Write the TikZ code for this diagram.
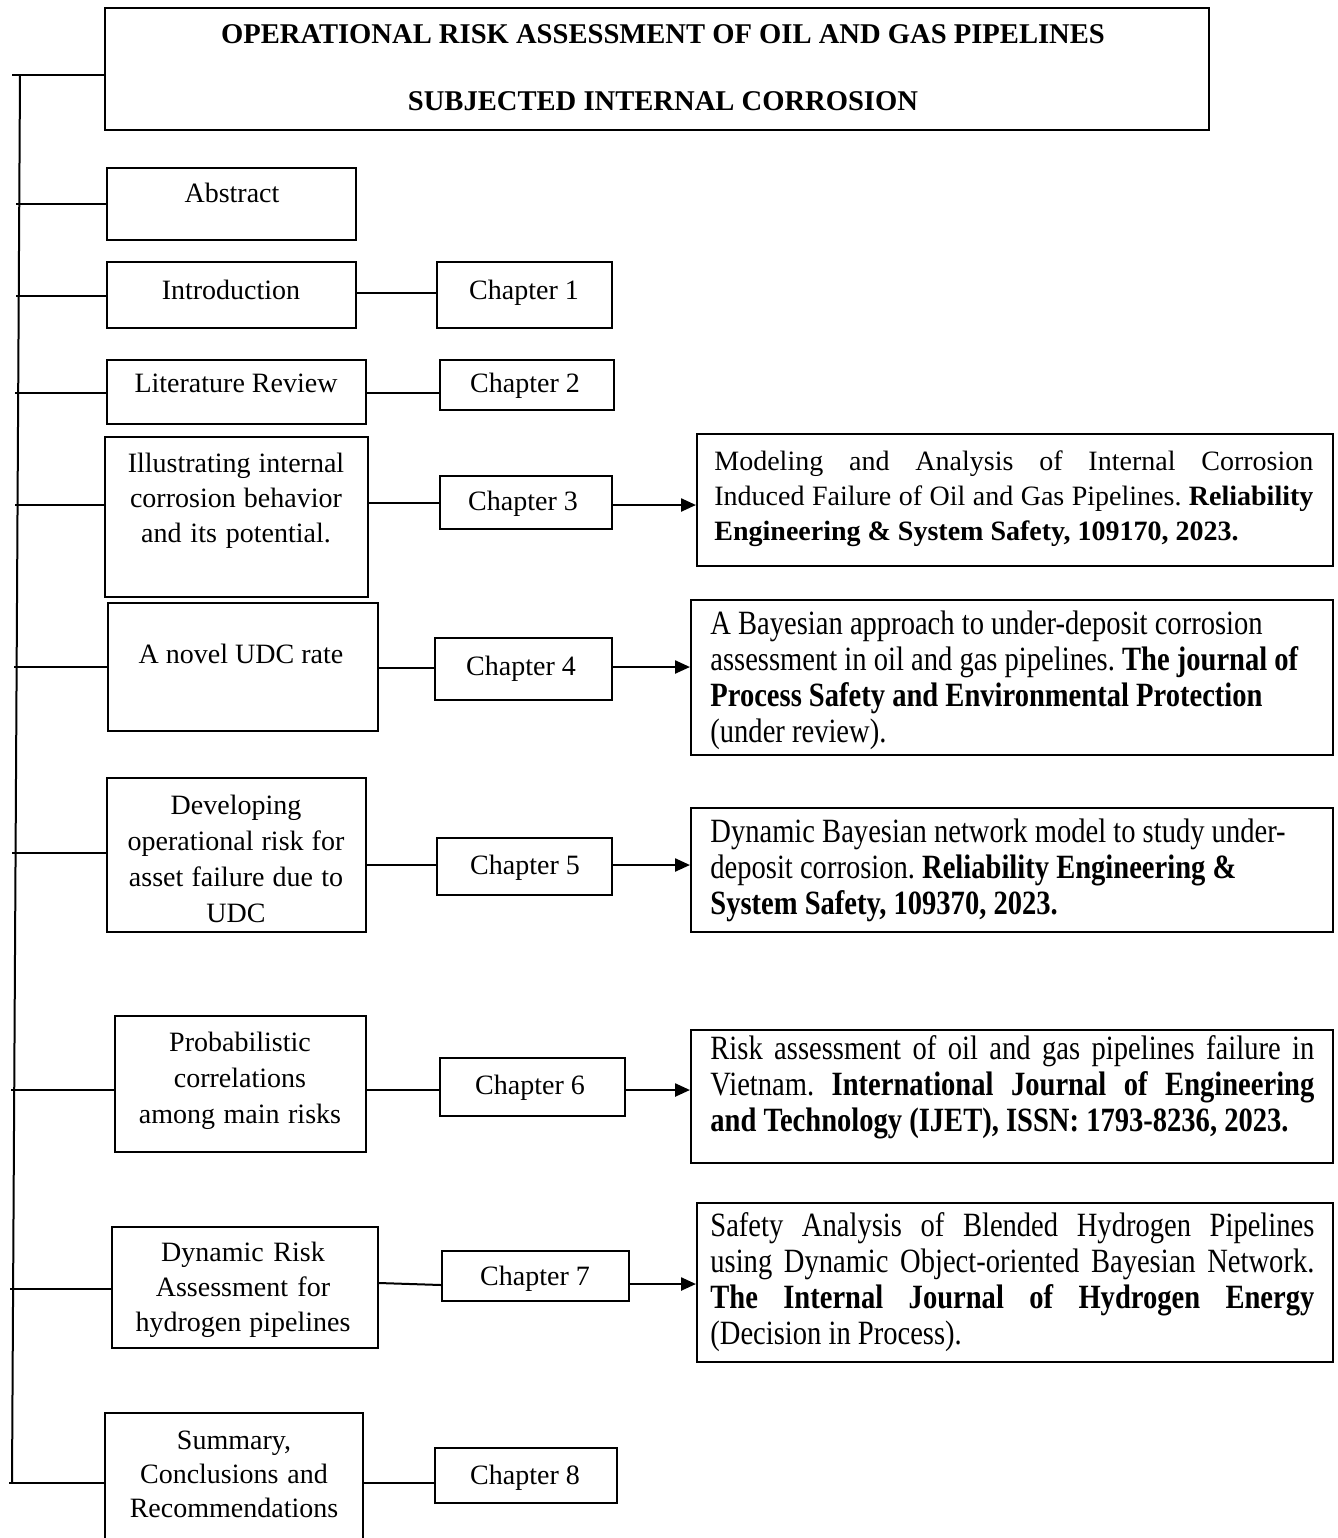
\documentclass[tikz,border=0pt]{standalone}
\usepackage{fontspec}
\setmainfont{Liberation Serif}
\newfontfamily\narrowserif[FakeStretch=0.84]{Liberation Serif}
\usetikzlibrary{arrows.meta,fit}
\frenchspacing
% framed box from two corners: name, x1, y1, x2, y2
\newcommand\boxat[5]{%
  \path (#2,#3) coordinate (#1-a) (#4,#5) coordinate (#1-b);
  \node[box, fit=(#1-a)(#1-b)] (#1) {};}
% plain interword spacing inside aligned nodes
\newcommand\plainsp{\spaceskip=0pt\xspaceskip=0pt\relax}
\begin{document}
\begin{tikzpicture}[x=0.5pt,y=-0.5pt,
  box/.style={draw, line width=1pt, inner sep=0pt},
  wire/.style={line width=1pt},
  arr/.style={line width=1.2pt, -{Triangle[length=7.5pt,width=6.5pt]}},
  lbl/.style={anchor=base, inner sep=0pt, font=\fontsize{14}{17.5}\selectfont},
  mlbl/.style={lbl, align=center, text width=#1},
  pub/.style={anchor=base west, inner sep=0pt, align=justify, text width=320pt},
  pubn/.style={pub, font=\narrowserif\fontsize{17}{18}\selectfont},
  pubr/.style={pub, font=\fontsize{14}{17.5}\selectfont},
]
\useasboundingbox (0,0) rectangle (1338,1538);
\clip (0,0) rectangle (1338,1538);

% ---- frames ----
\boxat{title}{105}{8}{1209}{130}
\boxat{abs}{107}{168}{356}{240}
\boxat{intro}{107}{262}{356}{328}
\boxat{lit}{107}{360}{366}{424}
\boxat{ill}{105}{437}{368}{597}
\boxat{udc}{108}{603}{378}{731}
\boxat{dev}{107}{778}{366}{932}
\boxat{prob}{115}{1016}{366}{1152}
\boxat{dyn}{112}{1227}{378}{1348}
\boxat{sum}{105}{1413}{363}{1550}

\boxat{ch1}{437}{262}{612}{328}
\boxat{ch2}{440}{360}{614}{410}
\boxat{ch3}{440}{476}{612}{529}
\boxat{ch4}{435}{638}{612}{700}
\boxat{ch5}{437}{838}{612}{895}
\boxat{ch6}{440}{1058}{625}{1116}
\boxat{ch7}{442}{1251}{629}{1301}
\boxat{ch8}{435}{1448}{617}{1503}

\boxat{p3}{697}{434}{1333}{566}
\boxat{p4}{691}{600}{1333}{755}
\boxat{p5}{691}{808}{1333}{932}
\boxat{p6}{691}{1030}{1333}{1163}
\boxat{p7}{697}{1203}{1333}{1362}

% ---- texts ----
\node[lbl, font=\bfseries\fontsize{14.3}{17}\selectfont] (t1) at (663,43)
  {OPERATIONAL RISK ASSESSMENT OF OIL AND GAS PIPELINES};
\node[lbl, font=\bfseries\fontsize{14.3}{17}\selectfont] (t2) at (663,110)
  {SUBJECTED INTERNAL CORROSION};

\node[lbl] (absT) at (232,202) {Abstract};
\node[lbl] (introT) at (231,299) {Introduction};
\node[lbl] (litT) at (236,392) {Literature Review};
\node[mlbl=125pt] (illT) at (236,472)
  {\plainsp Illustrating internal\\corrosion behavior\\and its potential.};
\node[lbl] (udcT) at (241,663) {A novel UDC rate};
\node[mlbl=125pt, font=\fontsize{14}{18}\selectfont] (devT) at (236,814)
  {\plainsp Developing\\operational risk for\\asset failure due to\\UDC};
\node[mlbl=125pt, font=\fontsize{14}{18}\selectfont] (probT) at (240,1051)
  {\plainsp Probabilistic\\correlations\\among main risks};
\node[mlbl=125pt] (dynT) at (243,1261)
  {\plainsp Dynamic Risk\\Assessment for\\hydrogen pipelines};
\node[mlbl=125pt, font=\fontsize{14}{17}\selectfont] (sumT) at (234,1449)
  {\plainsp Summary,\\Conclusions and\\Recommendations};

\node[lbl] (ch1T) at (524,299) {Chapter 1};
\node[lbl] (ch2T) at (525,392) {Chapter 2};
\node[lbl] (ch3T) at (523,510) {Chapter 3};
\node[lbl] (ch4T) at (521,675) {Chapter 4};
\node[lbl] (ch5T) at (525,874) {Chapter 5};
\node[lbl] (ch6T) at (530,1094) {Chapter 6};
\node[lbl] (ch7T) at (535,1285) {Chapter 7};
\node[lbl] (ch8T) at (525,1484) {Chapter 8};

\node[pubr] (p3T) at (714,470)
  {\makebox[299.5pt][s]{Modeling and Analysis of Internal Corrosion}\\
   \makebox[299.5pt][s]{Induced Failure of Oil and Gas Pipelines. \textbf{Reliability}}\\
   \textbf{Engineering \& System Safety, 109170, 2023.}};
\node[pubn] (p4T) at (710,634)
  {A Bayesian approach to under-deposit corrosion\\
   assessment in oil and gas pipelines. \textbf{The journal of}\\
   \textbf{Process Safety and Environmental Protection}\\
   (under review).};
\node[pubn] (p5T) at (710,842)
  {Dynamic Bayesian network model to study under-\\
   deposit corrosion. \textbf{Reliability Engineering \&}\\
   \textbf{System Safety, 109370, 2023.}};
\node[pubn] (p6T) at (710,1059)
  {\makebox[302pt][s]{Risk assessment of oil and gas pipelines failure in}\\
   \makebox[302pt][s]{Vietnam. \textbf{International Journal of Engineering}}\\
   \textbf{and Technology (IJET), ISSN: 1793-8236, 2023.}};
\node[pubn] (p7T) at (710,1236)
  {\makebox[302pt][s]{Safety Analysis of Blended Hydrogen Pipelines}\\
   \makebox[302pt][s]{using Dynamic Object-oriented Bayesian Network.}\\
   \makebox[302pt][s]{\textbf{The Internal Journal of Hydrogen Energy}}\\
   (Decision in Process).};

% ---- trunk and branches ----
\coordinate (trT) at (20,75);
\coordinate (trB) at (12,1483);
\draw[wire] (trT) -- (trB);

\coordinate (b0) at (12,75);
\coordinate (b1) at (16,204);
\coordinate (b2) at (16,296);
\coordinate (b3) at (15,393);
\coordinate (b4) at (15,505);
\coordinate (b5) at (14,667);
\coordinate (b6) at (12,853);
\coordinate (b7) at (11,1090);
\coordinate (b8) at (10,1289);
\coordinate (b9) at (9,1483);
\draw[wire] (b0) -- (b0 -| title.west);
\draw[wire] (b1) -- (b1 -| abs.west);
\draw[wire] (b2) -- (b2 -| intro.west);
\draw[wire] (b3) -- (b3 -| lit.west);
\draw[wire] (b4) -- (b4 -| ill.west);
\draw[wire] (b5) -- (b5 -| udc.west);
\draw[wire] (b6) -- (b6 -| dev.west);
\draw[wire] (b7) -- (b7 -| prob.west);
\draw[wire] (b8) -- (b8 -| dyn.west);
\draw[wire] (b9) -- (b9 -| sum.west);

% ---- topic to chapter ----
\draw[wire] (intro.east |- 0,293) -- (ch1.west |- 0,293);
\draw[wire] (lit.east |- 0,393) -- (ch2.west |- 0,393);
\draw[wire] (ill.east |- 0,503) -- (ch3.west |- 0,503);
\draw[wire] (udc.east |- 0,668) -- (ch4.west |- 0,668);
\draw[wire] (dev.east |- 0,865) -- (ch5.west |- 0,865);
\draw[wire] (prob.east |- 0,1090) -- (ch6.west |- 0,1090);
\draw[wire] (dyn.east |- 0,1283) -- (ch7.west |- 0,1285);
\draw[wire] (sum.east |- 0,1483) -- (ch8.west |- 0,1483);

% ---- chapter to publication ----
\draw[arr] (ch3.east |- 0,505) -- (p3.west |- 0,505);
\draw[arr] (ch4.east |- 0,667) -- (p4.west |- 0,667);
\draw[arr] (ch5.east |- 0,865) -- (p5.west |- 0,865);
\draw[arr] (ch6.east |- 0,1090) -- (p6.west |- 0,1090);
\draw[arr] (ch7.east |- 0,1284) -- (p7.west |- 0,1284);
\end{tikzpicture}
\end{document}
